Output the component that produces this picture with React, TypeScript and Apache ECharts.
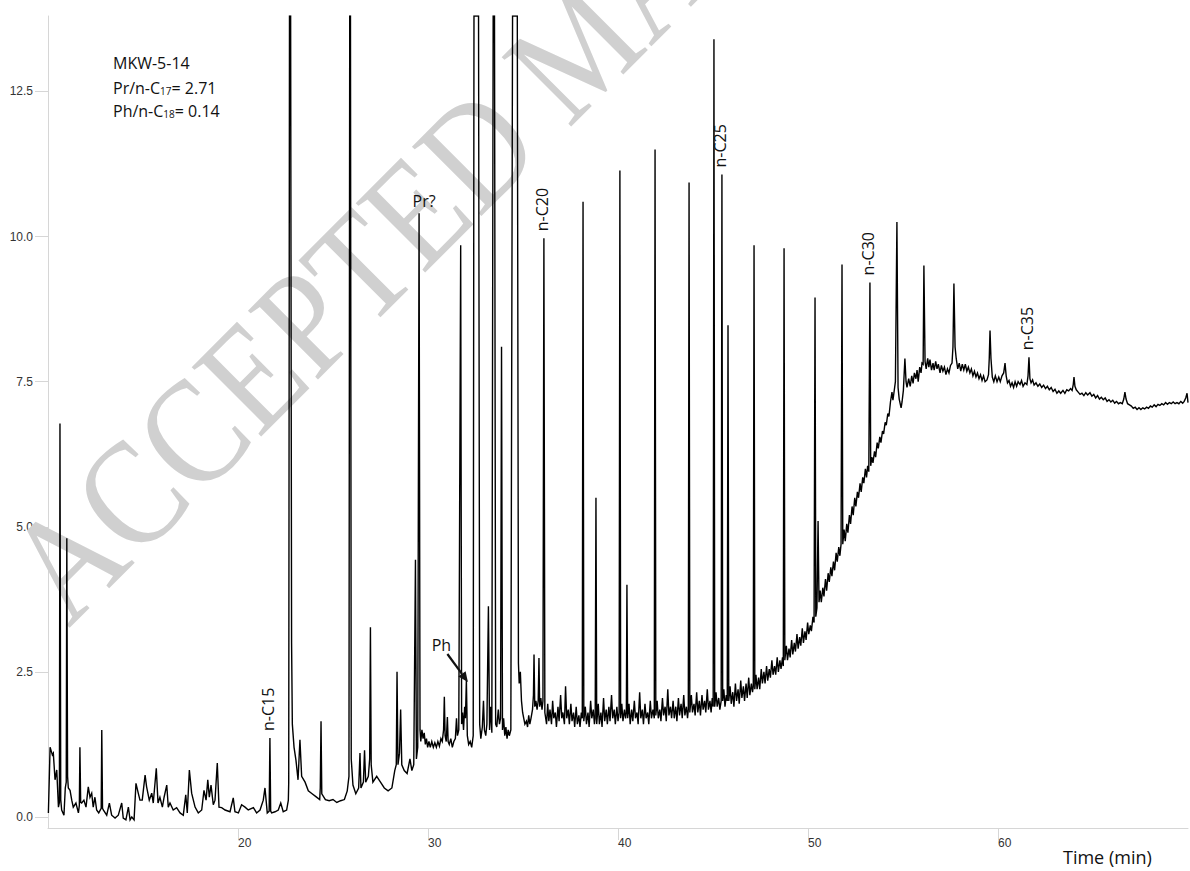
import { useEffect, useRef } from "react";
import * as echarts from "echarts";

// Chromatogram trace, [retention time (min), detector response]
const traceEarly: [number, number][] = [
  [10.02, 0.07], [10.11, 1.2], [10.23, 1.07], [10.28, 1.1], [10.37, 0.64], [10.46, 0.81], [10.55, 0.17],
  [10.6, 0.25], [10.63, 6.78], [10.67, 0.3], [10.72, 0.12], [10.84, 0.03], [10.91, 0.5], [10.96, 0.6],
  [10.99, 4.8], [11.03, 0.7], [11.07, 0.5], [11.16, 0.46], [11.25, 0.29], [11.33, 0.17], [11.47, 0.24],
  [11.6, 0.07], [11.65, 0.2], [11.68, 1.2], [11.72, 0.25], [11.77, 0.24], [11.89, 0.29], [12.0, 0.17],
  [12.12, 0.52], [12.21, 0.34], [12.3, 0.41], [12.38, 0.17], [12.47, 0.34], [12.56, 0.12], [12.67, 0.07],
  [12.8, 0.15], [12.83, 1.5], [12.87, 0.15], [12.91, 0.12], [13.09, 0.03], [13.23, 0.24], [13.35, 0.03],
  [13.53, -0.02], [13.7, 0.03], [13.88, 0.24], [13.96, -0.02], [14.1, -0.05], [14.23, 0.17], [14.32, -0.05],
  [14.41, 0], [14.53, -0.05], [14.63, 0.58], [14.75, 0.41], [14.84, 0.29], [14.96, 0.29], [15.11, 0.72],
  [15.19, 0.52], [15.33, 0.29], [15.46, 0.41], [15.54, 0.24], [15.7, 0.84], [15.79, 0.24], [15.89, 0.34],
  [16.02, 0.17], [16.11, 0.34], [16.25, 0.55], [16.33, 0.17], [16.42, 0.24], [16.59, 0.12], [16.77, 0.16],
  [16.95, 0.07], [17.12, 0.03], [17.25, 0.38], [17.33, 0.07], [17.44, 0.81], [17.56, 0.41], [17.74, 0.17],
  [17.91, 0.07], [18.09, 0.12], [18.21, 0.46], [18.32, 0.29], [18.41, 0.64], [18.49, 0.34], [18.58, 0.55],
  [18.7, 0.21], [18.79, 0.29], [18.91, 0.93], [19.0, 0.17], [19.14, 0.16], [19.32, 0.12], [19.58, 0.09],
  [19.75, 0.33], [19.84, 0.09], [20.02, 0.07], [20.19, 0.21], [20.37, 0.17], [20.54, 0.12], [20.81, 0.16],
  [20.98, 0.07], [21.16, 0.12], [21.33, 0.29], [21.42, 0.5], [21.54, 0.07], [21.64, 0.1], [21.68, 1.36],
  [21.72, 0.1], [21.77, 0.07], [21.95, 0.09], [22.12, 0.12], [22.25, 0.24], [22.38, 0.09], [22.56, 0.12],
  [22.65, 0.29],
];

const traceMiddle: [number, number][] = [
  [22.67, 0.6], [22.71, 13.8], [22.77, 13.8], [22.82, 3.0], [22.86, 1.6], [22.95, 1.2], [23.05, 0.98],
  [23.16, 0.64], [23.26, 1.33], [23.35, 0.7], [23.53, 0.6], [23.7, 0.45], [23.9, 0.4], [24.1, 0.35],
  [24.3, 0.3], [24.33, 0.5], [24.37, 1.65], [24.41, 0.4], [24.6, 0.3], [24.8, 0.28], [25.0, 0.3],
  [25.2, 0.25], [25.4, 0.28], [25.6, 0.3], [25.75, 0.45], [25.84, 0.7], [25.88, 13.8], [25.92, 13.8],
  [25.96, 1.0], [26.05, 0.55], [26.2, 0.4], [26.35, 0.5], [26.42, 1.1], [26.47, 0.5], [26.6, 0.6],
  [26.66, 1.15], [26.72, 0.6], [26.86, 0.7], [26.93, 1.0], [26.97, 3.27], [27.01, 0.9], [27.1, 0.6],
  [27.3, 0.7], [27.5, 0.6], [27.7, 0.5], [27.9, 0.45], [28.1, 0.5], [28.25, 0.8], [28.33, 0.9],
  [28.37, 2.5], [28.42, 0.9], [28.5, 1.1], [28.56, 1.85], [28.62, 0.9], [28.75, 0.8], [28.9, 0.75],
  [29.05, 1.0], [29.15, 0.8], [29.25, 0.9], [29.34, 4.43], [29.39, 1.0], [29.46, 1.2], [29.53, 10.4],
  [29.58, 1.5], [29.62, 1.3], [29.68, 1.5], [29.74, 1.35], [29.8, 1.45], [29.86, 1.25], [29.92, 1.35],
  [29.98, 1.2], [30.05, 1.3], [30.12, 1.2], [30.2, 1.3], [30.28, 1.2], [30.36, 1.28], [30.44, 1.2],
  [30.52, 1.3], [30.6, 1.22], [30.68, 1.35], [30.75, 1.3], [30.82, 1.5], [30.86, 2.07], [30.9, 1.4],
  [30.96, 1.3], [31.02, 1.72], [31.06, 1.3], [31.12, 1.25], [31.2, 1.35], [31.28, 1.2], [31.36, 1.3],
  [31.44, 1.35], [31.5, 1.7], [31.55, 1.4], [31.62, 1.5], [31.72, 9.85], [31.77, 1.6], [31.82, 1.8],
  [31.87, 1.5], [31.93, 1.9], [31.97, 1.7], [32.02, 2.36], [32.07, 1.4], [32.14, 1.25], [32.22, 1.3],
  [32.3, 1.2], [32.38, 1.4], [32.42, 13.8], [32.66, 13.8], [32.72, 1.6], [32.78, 1.35], [32.86, 1.55],
  [32.92, 2.0], [32.97, 1.5], [33.04, 1.4], [33.1, 1.6], [33.18, 3.63], [33.24, 1.5], [33.3, 1.9],
  [33.36, 1.45], [33.43, 13.8], [33.5, 13.8], [33.56, 1.6], [33.62, 1.55], [33.7, 1.85], [33.76, 1.6],
  [33.82, 1.7], [33.87, 8.1], [33.92, 1.5], [33.98, 1.7], [34.04, 1.4], [34.1, 1.55], [34.16, 1.35],
  [34.22, 1.5], [34.28, 1.4], [34.36, 1.5], [34.45, 13.8], [34.7, 13.8], [34.76, 2.65], [34.8, 2.3],
  [34.86, 2.5], [34.92, 2.0], [34.98, 1.8], [35.04, 1.7], [35.1, 1.6], [35.18, 1.65], [35.24, 1.55],
  [35.3, 1.75], [35.36, 1.6], [35.42, 1.7], [35.5, 1.85], [35.55, 2.1], [35.58, 2.8], [35.62, 1.9],
  [35.68, 2.0], [35.74, 1.85], [35.8, 2.0], [35.84, 2.74], [35.88, 1.9], [35.94, 2.05], [36.0, 1.85],
  [36.05, 2.0], [36.1, 9.97], [36.15, 1.8],
];

const traceRising: [number, number][] = [
  [36.24, 1.6], [36.3, 1.95], [36.36, 1.65], [36.42, 1.85], [36.5, 1.6], [36.56, 2.0], [36.62, 1.7],
  [36.7, 1.8], [36.76, 1.55], [36.84, 1.9], [36.9, 1.65], [36.98, 2.1], [37.04, 1.7], [37.1, 1.8],
  [37.18, 1.6], [37.24, 2.25], [37.3, 1.7], [37.38, 1.85], [37.44, 1.6], [37.52, 1.95], [37.58, 1.65],
  [37.66, 1.8], [37.72, 1.55], [37.8, 1.9], [37.86, 1.6], [37.94, 1.75], [38.0, 1.55], [38.07, 1.8],
  [38.12, 1.7], [38.16, 10.6], [38.2, 1.65], [38.28, 1.9], [38.34, 1.6], [38.42, 1.8], [38.48, 1.55],
  [38.56, 2.0], [38.62, 1.7], [38.7, 1.85], [38.76, 1.6], [38.8, 1.7], [38.84, 5.5], [38.88, 1.6],
  [38.96, 1.95], [39.02, 1.6], [39.1, 1.8], [39.16, 1.55], [39.24, 2.05], [39.3, 1.65], [39.38, 1.85],
  [39.44, 1.6], [39.52, 1.9], [39.58, 1.65], [39.66, 2.1], [39.72, 1.7], [39.8, 1.85], [39.86, 1.6],
  [39.94, 1.9], [40.0, 1.65], [40.06, 1.8], [40.1, 11.14], [40.14, 1.7], [40.2, 1.95], [40.26, 1.65],
  [40.34, 1.85], [40.4, 1.7], [40.44, 1.8], [40.47, 4.0], [40.51, 1.7], [40.58, 1.95], [40.64, 1.6],
  [40.72, 1.85], [40.78, 1.65], [40.86, 2.0], [40.92, 1.7], [41.0, 1.8], [41.06, 1.6], [41.14, 2.15],
  [41.2, 1.7], [41.28, 1.85], [41.34, 1.6], [41.42, 1.95], [41.48, 1.7], [41.56, 1.8], [41.62, 1.6],
  [41.7, 2.0], [41.76, 1.7], [41.84, 1.85], [41.91, 1.7], [41.95, 11.5], [41.99, 1.75], [42.06, 2.0],
  [42.12, 1.7], [42.2, 1.85], [42.26, 1.65], [42.34, 2.05], [42.4, 1.75], [42.48, 1.9], [42.54, 1.65],
  [42.62, 2.2], [42.68, 1.75], [42.76, 1.9], [42.82, 1.7], [42.9, 2.0], [42.96, 1.7], [43.04, 1.9],
  [43.1, 1.65], [43.18, 2.05], [43.24, 1.75], [43.32, 1.95], [43.38, 1.7], [43.46, 2.1], [43.52, 1.75],
  [43.6, 1.9], [43.66, 1.7], [43.7, 1.85], [43.74, 10.93], [43.78, 1.8], [43.86, 2.1], [43.92, 1.8],
  [44.0, 1.95], [44.06, 1.75], [44.14, 2.15], [44.2, 1.8], [44.28, 2.0], [44.34, 1.75], [44.42, 2.1],
  [44.48, 1.85], [44.56, 2.0], [44.62, 1.8], [44.7, 2.2], [44.76, 1.85], [44.84, 2.0], [44.9, 1.8],
  [44.96, 2.05], [45.01, 1.9], [45.05, 13.4], [45.09, 1.9], [45.16, 2.15], [45.22, 1.9], [45.3, 2.05],
  [45.36, 1.85], [45.43, 2.0], [45.47, 11.07], [45.51, 2.0], [45.57, 2.2], [45.63, 1.9], [45.7, 2.1],
  [45.75, 2.0], [45.79, 8.47], [45.83, 2.0], [45.9, 2.25], [45.96, 1.95], [46.04, 2.15], [46.1, 1.9],
  [46.18, 2.3], [46.24, 2.0], [46.32, 2.2], [46.38, 1.95], [46.46, 2.35], [46.52, 2.05], [46.6, 2.25],
  [46.66, 2.0], [46.74, 2.3], [46.8, 2.05], [46.88, 2.4], [46.94, 2.1], [47.02, 2.3], [47.08, 2.15],
  [47.12, 2.25], [47.16, 9.85], [47.2, 2.2], [47.26, 2.45], [47.32, 2.2], [47.4, 2.4], [47.46, 2.2],
  [47.54, 2.55], [47.6, 2.3], [47.68, 2.5], [47.74, 2.3], [47.82, 2.6], [47.88, 2.35], [47.96, 2.55],
  [48.02, 2.4], [48.1, 2.7], [48.16, 2.45], [48.24, 2.6], [48.3, 2.45], [48.38, 2.75], [48.44, 2.5],
  [48.52, 2.7], [48.58, 2.55], [48.66, 2.75], [48.7, 2.6], [48.74, 9.8], [48.78, 2.7], [48.86, 2.95],
  [48.92, 2.7], [49.0, 2.9], [49.06, 2.75], [49.14, 3.05], [49.2, 2.8], [49.28, 3.0], [49.34, 2.85],
  [49.42, 3.15], [49.48, 2.9], [49.56, 3.1], [49.62, 2.95], [49.7, 3.25], [49.76, 3.0], [49.84, 3.2],
  [49.9, 3.05], [49.98, 3.35], [50.04, 3.15], [50.12, 3.3], [50.18, 3.2], [50.26, 3.45], [50.32, 3.35],
  [50.37, 8.95], [50.41, 3.45], [50.47, 3.6], [50.53, 5.1], [50.58, 3.7], [50.64, 3.9], [50.7, 3.7],
  [50.78, 3.95], [50.84, 3.8], [50.92, 4.1], [50.98, 3.9], [51.06, 4.2], [51.12, 4.05], [51.2, 4.3],
  [51.26, 4.15], [51.34, 4.4], [51.4, 4.25], [51.48, 4.55], [51.54, 4.4], [51.62, 4.65], [51.68, 4.5],
  [51.74, 4.7], [51.79, 9.52], [51.83, 4.7], [51.9, 4.95], [51.96, 4.75], [52.04, 5.05], [52.1, 4.9],
  [52.18, 5.2], [52.24, 5.05], [52.32, 5.35], [52.38, 5.2], [52.46, 5.5], [52.52, 5.35], [52.6, 5.6],
  [52.66, 5.5], [52.74, 5.75], [52.8, 5.6], [52.88, 5.85], [52.94, 5.75], [53.02, 6.0], [53.08, 5.85],
  [53.14, 6.05], [53.2, 5.95], [53.26, 9.21], [53.3, 6.05], [53.36, 6.2], [53.42, 6.1], [53.5, 6.3],
  [53.56, 6.2], [53.64, 6.45], [53.7, 6.35], [53.78, 6.55], [53.84, 6.45], [53.92, 6.65], [53.98, 6.6],
  [54.06, 6.8], [54.12, 6.75], [54.2, 6.95], [54.26, 6.9], [54.34, 7.15], [54.42, 7.32], [54.47, 7.18],
  [54.52, 7.3], [54.6, 7.5], [54.68, 10.25], [54.74, 7.4], [54.8, 7.2], [54.9, 7.05], [54.95, 7.15],
  [55.02, 7.35], [55.1, 7.9], [55.16, 7.5],
];

const traceLate: [number, number][] = [
  [55.21, 7.4], [55.3, 7.55], [55.38, 7.42], [55.46, 7.6], [55.53, 7.47], [55.6, 7.65], [55.68, 7.55],
  [55.74, 7.7], [55.8, 7.5], [55.88, 7.75], [55.95, 7.65], [56.0, 7.82], [56.06, 7.8], [56.1, 9.5],
  [56.16, 7.85], [56.22, 7.72], [56.3, 7.9], [56.36, 7.75], [56.42, 7.88], [56.5, 7.7], [56.58, 7.82],
  [56.64, 7.7], [56.72, 7.85], [56.79, 7.72], [56.86, 7.8], [56.95, 7.65], [57.02, 7.78], [57.1, 7.68],
  [57.18, 7.75], [57.26, 7.62], [57.34, 7.72], [57.42, 7.65], [57.5, 7.78], [57.58, 7.82], [57.63, 8.1],
  [57.68, 9.19], [57.74, 8.1], [57.8, 7.9], [57.88, 7.72], [57.96, 7.82], [58.04, 7.68], [58.12, 7.8],
  [58.2, 7.7], [58.28, 7.8], [58.36, 7.68], [58.44, 7.75], [58.52, 7.65], [58.6, 7.72], [58.68, 7.6],
  [58.76, 7.68], [58.84, 7.58], [58.92, 7.65], [59.0, 7.55], [59.08, 7.62], [59.16, 7.52], [59.24, 7.6],
  [59.32, 7.5], [59.42, 7.53], [59.5, 7.62], [59.54, 7.9], [59.58, 8.38], [59.63, 7.9], [59.7, 7.58],
  [59.78, 7.5], [59.86, 7.6], [59.95, 7.5], [60.04, 7.58], [60.12, 7.5], [60.21, 7.6], [60.3, 7.65],
  [60.37, 7.82], [60.43, 7.6], [60.5, 7.48], [60.58, 7.52], [60.66, 7.42], [60.74, 7.48], [60.82, 7.4],
  [60.9, 7.5], [60.98, 7.42], [61.06, 7.5], [61.16, 7.45], [61.24, 7.52], [61.32, 7.42], [61.42, 7.48],
  [61.52, 7.45], [61.58, 7.6], [61.63, 7.92], [61.68, 7.55], [61.74, 7.48], [61.82, 7.53], [61.9, 7.44],
  [62.0, 7.48], [62.1, 7.42], [62.2, 7.46], [62.3, 7.4], [62.4, 7.44], [62.5, 7.38], [62.6, 7.42],
  [62.7, 7.36], [62.8, 7.4], [62.9, 7.33], [63.0, 7.37], [63.1, 7.3], [63.2, 7.34], [63.3, 7.3],
  [63.42, 7.35], [63.52, 7.3], [63.62, 7.36], [63.72, 7.34], [63.82, 7.38], [63.9, 7.35], [63.96, 7.45],
  [64.0, 7.58], [64.05, 7.42], [64.12, 7.36], [64.22, 7.32], [64.32, 7.28], [64.42, 7.3], [64.52, 7.26],
  [64.62, 7.31], [64.72, 7.27], [64.84, 7.31], [64.94, 7.25], [65.04, 7.28], [65.14, 7.22], [65.24, 7.26],
  [65.34, 7.2], [65.44, 7.23], [65.54, 7.19], [65.64, 7.22], [65.74, 7.16], [65.84, 7.19], [65.94, 7.15],
  [66.04, 7.18], [66.14, 7.13], [66.24, 7.16], [66.34, 7.12], [66.44, 7.14], [66.54, 7.12], [66.62, 7.2],
  [66.68, 7.32], [66.74, 7.2], [66.82, 7.12], [66.92, 7.1], [67.02, 7.08], [67.12, 7.04], [67.22, 7.06],
  [67.32, 7.02], [67.42, 7.05], [67.52, 7.02], [67.62, 7.05], [67.72, 7.03], [67.82, 7.06], [67.92, 7.04],
  [68.02, 7.08], [68.12, 7.06], [68.22, 7.1], [68.32, 7.07], [68.42, 7.11], [68.52, 7.09], [68.62, 7.12],
  [68.72, 7.1], [68.82, 7.14], [68.92, 7.11], [69.02, 7.14], [69.12, 7.12], [69.22, 7.15], [69.32, 7.12],
  [69.42, 7.14], [69.52, 7.12], [69.62, 7.16], [69.72, 7.13], [69.8, 7.16], [69.88, 7.22], [69.95, 7.3],
  [70.0, 7.14],
];

// Axis extents and tick values
const yTickValues = [0, 2.5, 5, 7.5, 10, 12.5];
const yMin = -0.19;
const yMax = 13.8;
const xMin = 10;
const xMax = 70;
const xStep = 10;

// Labelled n-alkane peaks
const alkaneNames = ["n-C15", "n-C20", "n-C25", "n-C30", "n-C35"];
const alkaneTimes = [21.68, 36.1, 45.47, 53.26, 61.63];
const alkaneTops = [1.36, 9.97, 11.07, 9.21, 7.92];

// Isoprenoid peaks
const pristane = { name: "Pr?", time: 29.53, top: 10.4 };
const phytane = { name: "Ph", time: 32.02, top: 2.36 };

const sampleName = "MKW-5-14";
const prRatio = "2.71";
const phRatio = "0.14";

const LABEL_FONT = '"Open Sans", "Noto Sans", sans-serif';
const AXIS_FONT = '"Liberation Sans", Arial, sans-serif';

export default function App() {
  const ref = useRef<HTMLDivElement>(null);

  useEffect(() => {
    if (!ref.current) return;
    const chart = echarts.init(ref.current, null, { renderer: "svg" });
    const trace = [...traceEarly, ...traceMiddle, ...traceRising, ...traceLate];

    chart.setOption({
      animation: false,
      backgroundColor: "#ffffff",
      grid: { left: 48, right: 2, top: 16, bottom: 43, containLabel: false },
      xAxis: {
        type: "value",
        min: xMin,
        max: xMax,
        interval: xStep,
        splitLine: { show: false },
        axisLine: { onZero: false, lineStyle: { color: "#d6d6d6", width: 1 } },
        axisTick: { length: 12, lineStyle: { color: "#d6d6d6" } },
        axisLabel: {
          showMinLabel: false,
          showMaxLabel: false,
          align: "left",
          margin: 9,
          color: "#333",
          fontSize: 12,
          fontFamily: AXIS_FONT,
        },
      },
      yAxis: {
        type: "value",
        min: yMin,
        max: yMax,
        splitLine: { show: false },
        axisLine: { show: true, lineStyle: { color: "#d6d6d6", width: 1 } },
        axisTick: { show: true, length: 13, customValues: yTickValues, lineStyle: { color: "#d6d6d6" } },
        axisLabel: {
          customValues: yTickValues,
          formatter: (v: number) => v.toFixed(1),
          margin: 15,
          color: "#333",
          fontSize: 12,
          fontFamily: AXIS_FONT,
        },
      },
      series: [
        {
          type: "line",
          data: trace,
          symbol: "none",
          clip: true,
          z: 5,
          lineStyle: { color: "#000", width: 1.4, join: "miter" },
        },
      ],
    });

    const px = (t: number, v: number) => chart.convertToPixel({ gridIndex: 0 }, [t, v]) as number[];

    const textStyle = (text: string, size: number, align: string) => ({
      text,
      fill: "#111",
      fontSize: size,
      fontFamily: LABEL_FONT,
      align,
      verticalAlign: "middle",
      textAlign: align,
      textVerticalAlign: "middle",
    });

    const alkaneLabels = alkaneNames.map((name, i) => {
      const p = px(alkaneTimes[i], alkaneTops[i]);
      return {
        type: "text",
        x: p[0] - 1.5,
        y: p[1] - 7,
        rotation: Math.PI / 2,
        z: 20,
        style: textStyle(name, 16, "left"),
      };
    });

    const pr = px(pristane.time, pristane.top);
    const ph = px(phytane.time, phytane.top);
    // arrow from the Ph label down to the phytane peak
    const tip = [ph[0] + 1.5, ph[1] + 2];
    const tail = [ph[0] - 19, ph[1] - 26];
    const dx = tip[0] - tail[0];
    const dy = tip[1] - tail[1];
    const len = Math.hypot(dx, dy);
    const ux = dx / len;
    const uy = dy / len;
    const headLen = 10;
    const headHalf = 4.5;
    const bx = tip[0] - ux * headLen;
    const by = tip[1] - uy * headLen;

    const ratioRich = {
      a: { fontSize: 16, fontFamily: LABEL_FONT, fill: "#111", lineHeight: 20, verticalAlign: "bottom" },
      s: { fontSize: 10, fontFamily: LABEL_FONT, fill: "#111", lineHeight: 20, verticalAlign: "bottom" },
    };

    chart.setOption({
      graphic: [
        {
          type: "text",
          x: 86,
          y: 646,
          rotation: Math.PI / 4,
          scaleX: 0.87,
          z: 1,
          silent: true,
          style: {
            text: "ACCEPTED MANUSCRIPT",
            fill: "#d0d0d0",
            fontSize: 150,
            fontFamily: '"Liberation Serif", "DejaVu Serif", serif',
            align: "left",
            verticalAlign: "bottom",
            textAlign: "left",
            textVerticalAlign: "bottom",
          },
        },
        ...alkaneLabels,
        {
          type: "text",
          x: pr[0] + 5,
          y: pr[1] - 12,
          z: 20,
          style: textStyle(pristane.name, 16, "center"),
        },
        {
          type: "text",
          x: ph[0] - 25,
          y: ph[1] - 35,
          z: 20,
          style: textStyle(phytane.name, 16, "center"),
        },
        {
          type: "line",
          z: 20,
          shape: { x1: tail[0], y1: tail[1], x2: bx, y2: by },
          style: { stroke: "#111", lineWidth: 2.2 },
        },
        {
          type: "polygon",
          z: 20,
          shape: {
            points: [
              [tip[0], tip[1]],
              [bx - uy * headHalf, by + ux * headHalf],
              [bx + uy * headHalf, by - ux * headHalf],
            ],
          },
          style: { fill: "#111" },
        },
        {
          type: "text",
          x: 113,
          y: 63,
          z: 20,
          style: textStyle(sampleName, 16, "left"),
        },
        {
          type: "text",
          x: 113,
          y: 86,
          z: 20,
          style: {
            text: "{a|Pr/n-C}{s|17}{a|= " + prRatio + "}",
            align: "left",
            verticalAlign: "middle",
            textAlign: "left",
            textVerticalAlign: "middle",
            rich: ratioRich,
          },
        },
        {
          type: "text",
          x: 113,
          y: 109,
          z: 20,
          style: {
            text: "{a|Ph/n-C}{s|18}{a|= " + phRatio + "}",
            align: "left",
            verticalAlign: "middle",
            textAlign: "left",
            textVerticalAlign: "middle",
            rich: ratioRich,
          },
        },
        {
          type: "text",
          x: 1063,
          y: 857,
          z: 20,
          style: textStyle("Time (min)", 18, "left"),
        },
      ],
    });

    return () => chart.dispose();
  }, []);

  return (
    <div
      ref={ref}
      style={{ position: "absolute", left: 0, top: 0, width: 1190, height: 871 }}
    />
  );
}
